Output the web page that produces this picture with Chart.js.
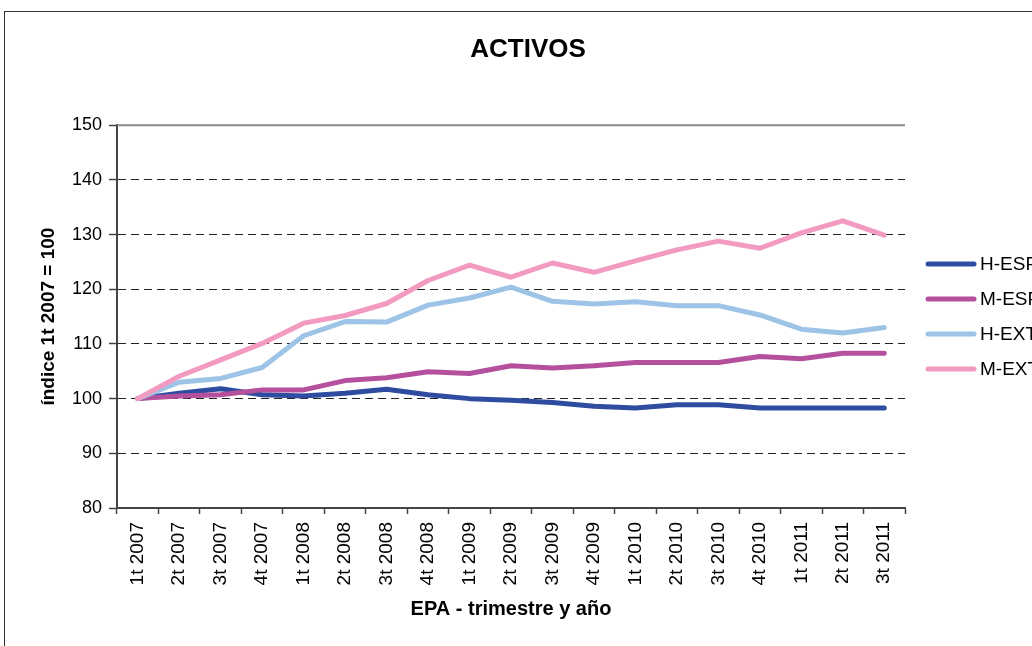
<!DOCTYPE html>
<html>
<head>
<meta charset="utf-8">
<title>ACTIVOS</title>
<script src="https://cdn.jsdelivr.net/npm/chart.js@4.4.1/dist/chart.umd.min.js"></script>
<style>
    html, body { margin: 0; padding: 0; background: #fff; overflow: hidden; }
    canvas { display: block; }
</style>
</head>
<body>
<canvas id="chart" width="1056" height="646"></canvas>
<script>
// Quarter labels (EPA)
let quarters = ['1t 2007', '2t 2007', '3t 2007', '4t 2007', '1t 2008', '2t 2008', '3t 2008', '4t 2008',
    '1t 2009', '2t 2009', '3t 2009', '4t 2009', '1t 2010', '2t 2010', '3t 2010', '4t 2010',
    '1t 2011', '2t 2011', '3t 2011'];

// Index values, 1t 2007 = 100
let hEsp = [100, 101.0, 101.8, 100.7, 100.5, 101.0, 101.7, 100.7, 100.0, 99.7, 99.3, 98.6, 98.3, 98.9, 98.9, 98.3, 98.3, 98.3, 98.3];
let mEsp = [100, 100.5, 100.7, 101.6, 101.6, 103.3, 103.8, 104.9, 104.6, 106.0, 105.6, 106.0, 106.6, 106.6, 106.6, 107.7, 107.3, 108.3, 108.3];
let hExt = [100, 103.0, 103.7, 105.7, 111.5, 114.1, 114.0, 117.1, 118.4, 120.4, 117.8, 117.3, 117.7, 117.0, 117.0, 115.3, 112.7, 112.0, 113.0];
let mExt = [100, 104.1, 107.1, 110.1, 113.8, 115.2, 117.4, 121.6, 124.4, 122.2, 124.8, 123.1, 125.2, 127.2, 128.8, 127.5, 130.3, 132.5, 129.9];

let seriesNames = ['H-ESP', 'M-ESP', 'H-EXT', 'M-EXT'];
let seriesColors = ['#2E4DA0', '#B4509D', '#9DC3E6', '#F29AC0'];

const FONT = "'Liberation Sans', Arial, sans-serif";

// Outer frame, solid top line of the plot and the legend on the right
const framePlugin = {
    id: 'frame',
    beforeDraw(chart) {
        const ctx = chart.ctx;
        ctx.save();
        ctx.strokeStyle = '#333';
        ctx.lineWidth = 1;
        ctx.strokeRect(4.5, 11.5, 1400, 1000);
        ctx.restore();
    },
    beforeDatasetsDraw(chart) {
        const a = chart.chartArea;
        const ctx = chart.ctx;
        ctx.save();
        ctx.strokeStyle = '#888';
        ctx.lineWidth = 2;
        ctx.beginPath();
        ctx.moveTo(a.left, a.top);
        ctx.lineTo(a.right, a.top);
        ctx.stroke();
        ctx.restore();
    },
    afterDraw(chart) {
        const a = chart.chartArea;
        const ctx = chart.ctx;
        const mid = (a.top + a.bottom) / 2;
        const ds = chart.data.datasets;
        ctx.save();
        ctx.font = '19px ' + FONT;
        ctx.textBaseline = 'middle';
        ctx.textAlign = 'left';
        ds.forEach((d, i) => {
            let y = Math.round(mid + (i - (ds.length - 1) / 2) * 35);
            ctx.strokeStyle = d.borderColor;
            ctx.lineWidth = 5;
            ctx.lineCap = 'round';
            ctx.beginPath();
            ctx.moveTo(a.right + 23, y);
            ctx.lineTo(a.right + 69, y);
            ctx.stroke();
            ctx.fillStyle = '#000';
            ctx.fillText(d.label, a.right + 75, y + 1);
        });
        ctx.restore();
    }
};

let seriesData = [hEsp, mEsp, hExt, mExt];

let datasets = seriesNames.map((name, i) => ({
    label: name,
    data: seriesData[i],
    borderColor: seriesColors[i],
    backgroundColor: seriesColors[i],
    borderWidth: 5,
    borderCapStyle: 'round',
    borderJoinStyle: 'round',
    pointRadius: 0,
    tension: 0,
    fill: false,
    order: seriesNames.length - i // later series on top
}));

var ctx = document.getElementById('chart').getContext('2d');
let chart = new Chart(ctx, {
    type: 'line',
    data: {
        labels: quarters,
        datasets: datasets
    },
    options: {
        responsive: false,
        animation: false,
        devicePixelRatio: 1,
        layout: { padding: 0 },
        plugins: {
            legend: { display: false },
            tooltip: { enabled: false },
            title: {
                display: true,
                text: 'ACTIVOS',
                color: '#000',
                font: { family: FONT, size: 26, weight: 'bold' },
                padding: { top: 34, bottom: 60 }
            }
        },
        scales: {
            x: {
                offset: true,
                grid: {
                    offset: true,
                    drawOnChartArea: false,
                    drawTicks: true,
                    tickLength: 6,
                    tickColor: '#444',
                    tickWidth: 1.5
                },
                border: { display: true, color: '#444', width: 2 },
                ticks: {
                    autoSkip: false,
                    minRotation: 90,
                    maxRotation: 90,
                    padding: 8,
                    color: '#000',
                    font: { family: FONT, size: 19 }
                },
                title: {
                    display: true,
                    text: 'EPA - trimestre y año',
                    color: '#000',
                    font: { family: FONT, size: 20, weight: 'bold' },
                    padding: { top: 0, bottom: 25 }
                },
                afterFit(scale) { scale.height = 138; }
            },
            y: {
                min: 80,
                max: 150,
                ticks: {
                    stepSize: 10,
                    padding: 7,
                    color: '#000',
                    font: { family: FONT, size: 18 }
                },
                grid: {
                    color: '#222',
                    lineWidth: 1,
                    drawTicks: true,
                    tickLength: 8,
                    tickColor: '#444',
                    tickWidth: 1.5
                },
                border: { display: true, color: '#444', width: 2, dash: [8, 5] },
                title: {
                    display: true,
                    text: 'índice 1t 2007 = 100',
                    color: '#000',
                    font: { family: FONT, size: 19, weight: 'bold' },
                    padding: { top: 37, bottom: 0 }
                },
                afterFit(scale) { scale.width = 117; }
            },
            // empty axis on the right keeps room for the legend
            yLegend: {
                position: 'right',
                display: true,
                grid: { display: false },
                border: { display: false },
                ticks: { display: false },
                afterFit(scale) { scale.width = 151; }
            }
        }
    },
    plugins: [framePlugin]
});
</script>
</body>
</html>
